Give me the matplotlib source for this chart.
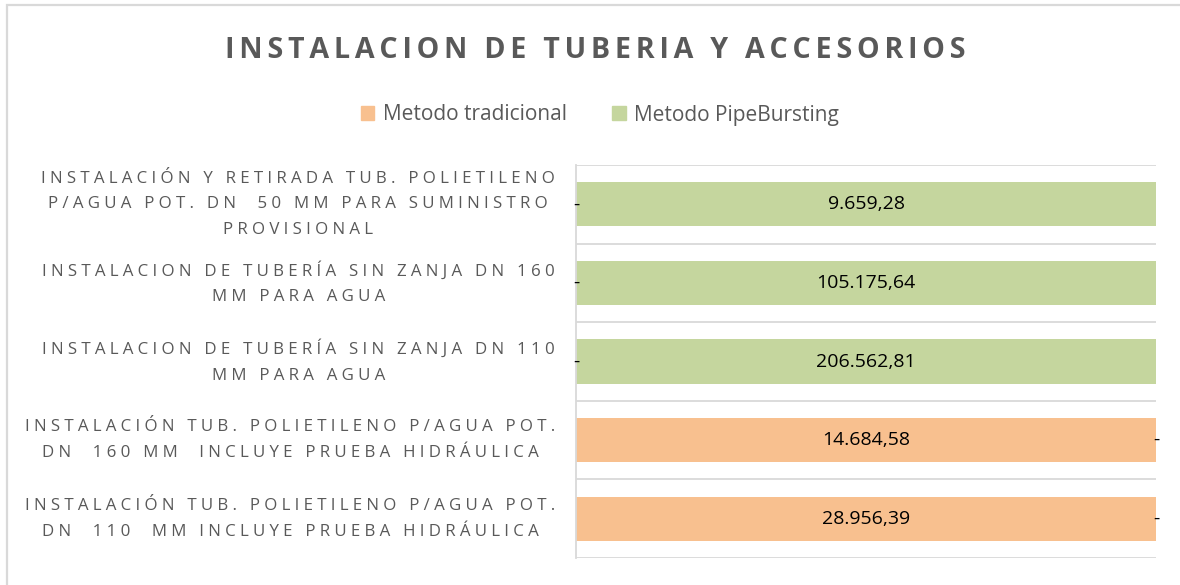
import matplotlib
matplotlib.use("Agg")
import matplotlib.pyplot as plt
from matplotlib.patches import Rectangle, Patch
import numpy as np

categories = [
    "INSTALACIÓN Y RETIRADA TUB. POLIETILENO\nP/AGUA POT. DN  50 MM PARA SUMINISTRO\nPROVISIONAL",
    "INSTALACION DE TUBERÍA SIN ZANJA DN 160\nMM PARA AGUA",
    "INSTALACION DE TUBERÍA SIN ZANJA DN 110\nMM PARA AGUA",
    "INSTALACIÓN TUB. POLIETILENO P/AGUA POT.\nDN  160 MM  INCLUYE PRUEBA HIDRÁULICA",
    "INSTALACIÓN TUB. POLIETILENO P/AGUA POT.\nDN  110  MM INCLUYE PRUEBA HIDRÁULICA",
]
tradicional = [0.0, 0.0, 0.0, 14684.58, 28956.39]
pipebursting = [9659.28, 105175.64, 206562.81, 0.0, 0.0]
series_names = ["Metodo tradicional", "Metodo PipeBursting"]
title = "INSTALACION DE TUBERIA Y ACCESORIOS"

c_trad = "#F8C08F"
c_pb = "#C5D69E"
gray = "#595959"
FONT = ["Open Sans", "DejaVu Sans"]


def fmt(v):
    if v == 0:
        return "-"
    s = f"{v:,.2f}"
    return s.replace(",", "X").replace(".", ",").replace("X", ".")


def spaced(s, gap):
    # emulate the chart's letter spacing
    return "\n".join(gap.join(line) for line in s.split("\n"))


fig = plt.figure(figsize=(11.8, 5.85), dpi=100)
fig.patches.append(Rectangle((7 / 1180, -0.1), 1.2, (585 - 5.5) / 585 + 0.1,
                             transform=fig.transFigure, fill=False,
                             edgecolor="#D9D9D9", linewidth=1.6))

ax = fig.add_axes([576 / 1180, (585 - 558) / 585, (1156 - 576) / 1180, (558 - 165) / 585])

n = len(categories)
y = np.arange(n)
tot = np.array(tradicional) + np.array(pipebursting)
p_trad = np.array(tradicional) / tot
p_pb = np.array(pipebursting) / tot

h = 0.56
ax.barh(y, p_trad, height=h, color=c_trad, label=series_names[0])
ax.barh(y, p_pb, left=p_trad, height=h, color=c_pb, label=series_names[1])

for i in range(n):
    ax.text(p_trad[i] / 2, y[i], fmt(tradicional[i]), ha="center", va="center",
            fontsize=14, family=FONT, color="black")
    ax.text(p_trad[i] + p_pb[i] / 2, y[i], fmt(pipebursting[i]), ha="center", va="center",
            fontsize=14, family=FONT, color="black")

ax.set_xlim(0, 1)
ax.set_ylim(n - 0.5, -0.5)
ax.set_yticks(y)
ax.set_yticklabels([spaced(c, "\u2005") for c in categories], family=FONT, fontsize=12.2,
                   color=gray, multialignment="center", linespacing=1.8, va="center")
ax.tick_params(axis="y", length=0, pad=15)
ax.set_xticks([])
ax.set_yticks(np.arange(n + 1) - 0.5, minor=True)
ax.grid(axis="y", which="minor", color="#D9D9D9", linewidth=1.3)
ax.tick_params(axis="y", which="minor", length=0)
ax.set_axisbelow(True)
for s in ["top", "right", "bottom"]:
    ax.spines[s].set_visible(False)
ax.spines["left"].set_color("#D9D9D9")
ax.spines["left"].set_linewidth(1.3)

fig.text(595 / 1180, 1 - 51 / 585, spaced(title, "\u2006"), ha="center",
         va="center", fontsize=20.6, fontweight="bold", family=FONT, color=gray)

handles = [Patch(color=c_trad), Patch(color=c_pb)]
fig.legend(handles, series_names, loc="center", bbox_to_anchor=(600 / 1180, 1 - 115 / 585),
           ncol=2, frameon=False, prop={"family": FONT, "size": 15},
           labelcolor=gray, handlelength=0.65, handleheight=0.65, handletextpad=0.4,
           columnspacing=2.2)

fig.savefig("out.png", dpi=100)
